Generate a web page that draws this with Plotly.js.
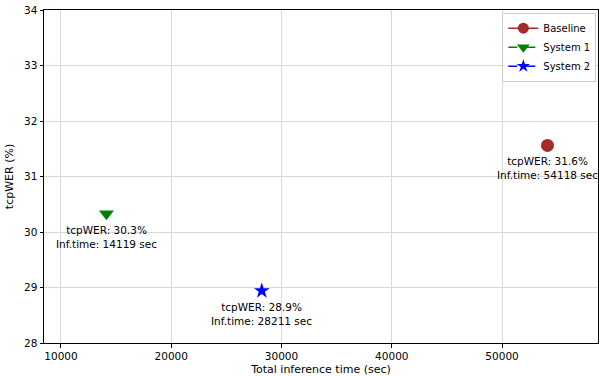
<!DOCTYPE html>
<html>
<head>
<meta charset="utf-8">
<script src="https://cdn.plot.ly/plotly-3.0.1.min.js"></script>
<style>html,body{margin:0;padding:0;background:#fff;}#chart{width:599px;height:376px;}</style>
</head>
<body>
<div id="chart"></div>
<script>
// Systems compared: total inference time vs tcpWER
const systems = ["Baseline", "System 1", "System 2"];
const inferenceTime = [54118, 14119, 28211];
const tcpWER = [31.56, 30.33, 28.94];
const colors = ["#a52a2a", "#008000", "#0000ff"];
const symbols = ["circle", "triangle-down", "star"];
const markerSizes = [13, 13, 12];
const legendMarkerSizes = [11, 11, 10];
const dashes = ["solid", "dash", "dash"];

const font = "DejaVu Sans, sans-serif";

// one marker per system (legend handled by separate keys below)
const points = systems.map((name, i) => ({
  type: "scatter",
  mode: "markers",
  name: name,
  showlegend: false,
  x: [inferenceTime[i]],
  y: [tcpWER[i]],
  marker: {color: colors[i], symbol: symbols[i], size: markerSizes[i], line: {width: 0}},
  hoverinfo: "skip"
}));

// legend keys: line + marker, drawn smaller than the data markers
const keys = systems.map((name, i) => ({
  type: "scatter",
  mode: "lines+markers",
  name: name,
  x: [null],
  y: [null],
  line: {color: colors[i], width: 1.5, dash: dashes[i]},
  marker: {color: colors[i], symbol: symbols[i], size: legendMarkerSizes[i], line: {width: 0}},
  hoverinfo: "skip"
}));

const annotations = systems.map((name, i) => ({
  x: inferenceTime[i],
  y: tcpWER[i],
  xref: "x", yref: "y",
  text: "tcpWER: " + tcpWER[i].toFixed(1) + "%<br>Inf.time: " + inferenceTime[i] + " sec",
  showarrow: false,
  xanchor: "center",
  yanchor: "top",
  yshift: -8,
  font: {family: font, size: 10.5, color: "#000"},
  align: "center"
}));

const axisCommon = {
  showline: true, linecolor: "#000", linewidth: 1, mirror: true,
  ticks: "outside", ticklen: 3.5, tickcolor: "#000", tickwidth: 1,
  showgrid: true, gridcolor: "#d8d8d8", gridwidth: 1,
  zeroline: false,
  tickfont: {family: font, size: 10.5, color: "#000"}
};

const layout = {
  width: 599, height: 376,
  margin: {l: 44, r: 1, t: 10, b: 33},
  paper_bgcolor: "#fff", plot_bgcolor: "#fff",
  showlegend: true,
  xaxis: Object.assign({}, axisCommon, {
    range: [8459, 58700],
    tickvals: [10000, 20000, 30000, 40000, 50000],
    ticktext: ["10000", "20000", "30000", "40000", "50000"],
    title: {text: "Total inference time (sec)", font: {family: font, size: 11, color: "#000"}, standoff: 4}
  }),
  yaxis: Object.assign({}, axisCommon, {
    range: [28, 34],
    dtick: 1,
    title: {text: "tcpWER (%)", font: {family: font, size: 11, color: "#000"}, standoff: 8}
  }),
  legend: {
    x: 0.997, y: 0.992, xanchor: "right", yanchor: "top",
    bgcolor: "rgba(255,255,255,0.9)", bordercolor: "#cccccc", borderwidth: 1,
    font: {family: font, size: 10, color: "#000"},
    itemwidth: 30, tracegroupgap: 0
  },
  annotations: annotations
};

Plotly.newPlot("chart", points.concat(keys), layout, {displayModeBar: false, staticPlot: true});
</script>
</body>
</html>
